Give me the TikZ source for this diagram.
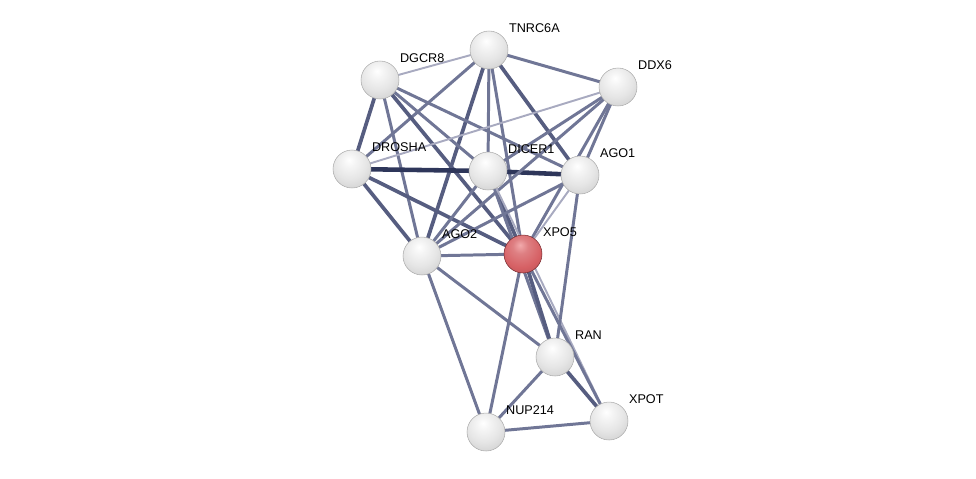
\documentclass[tikz,border=0pt]{standalone}
\usepackage{fontspec}
\setmainfont{Liberation Sans}
\usetikzlibrary{backgrounds}

\definecolor{edgelite}{RGB}{168,170,192}
\definecolor{edgemid}{RGB}{112,118,150}
\definecolor{edgestrong}{RGB}{86,93,128}
\definecolor{edgedark}{RGB}{46,54,90}
\definecolor{redmid}{RGB}{214,96,100}
\definecolor{redhi}{RGB}{242,170,172}
\definecolor{redlo}{RGB}{170,62,68}

\pgfdeclareradialshading{greyball}{\pgfpoint{-4bp}{12bp}}{color(0bp)=(white); color(8bp)=(gray!8); color(22bp)=(gray!20); color(34bp)=(gray!34); color(44bp)=(gray!52); color(50bp)=(gray!70); color(80bp)=(gray!70)}
\pgfdeclareradialshading{redball}{\pgfpoint{-4bp}{12bp}}{color(0bp)=(redhi); color(10bp)=(redmid!80!white); color(26bp)=(redmid); color(40bp)=(redmid!85!black); color(48bp)=(redlo); color(52bp)=(redlo!75!black); color(80bp)=(redlo!75!black)}

\begin{document}
\begin{tikzpicture}[x=0.02cm,y=-0.02cm,
  prot/.style={circle,inner sep=0pt,minimum size=0.76cm,shading=greyball,draw=gray!65,line width=0.3pt},
  query/.style={prot,shading=redball,draw=redlo!70!black},
  lab/.style={anchor=west,inner sep=1pt,font=\fontsize{7.2}{8}\selectfont},
  lite/.style={draw=edgelite,line width=1.1pt},
  mid/.style={draw=edgemid,line width=1.7pt},
  strong/.style={draw=edgestrong,line width=2.1pt},
  dark/.style={draw=edgedark,line width=2.6pt}]

\useasboundingbox (0,0) rectangle (976,478);

\node[prot] (TNRC6A) at (489,50) {};
\node[prot] (DGCR8) at (380,80) {};
\node[prot] (DDX6) at (618,87) {};
\node[prot] (DROSHA) at (352,169) {};
\node[prot] (DICER1) at (488,171) {};
\node[prot] (AGO1) at (580,175) {};
\node[prot] (AGO2) at (422,256) {};
\node[query] (XPO5) at (523,254) {};
\node[prot] (RAN) at (555,357) {};
\node[prot] (NUP214) at (486,432) {};
\node[prot] (XPOT) at (609,421) {};

\foreach \p in {TNRC6A,DGCR8,DDX6,DROSHA,DICER1,AGO1,AGO2,XPO5,RAN,NUP214,XPOT}
  \node[lab] (l\p) at ([shift={(18,-22)}]\p) {\p};

\begin{scope}[on background layer]
\draw[lite] (TNRC6A.center) to (DGCR8.center);
\draw[mid] (TNRC6A.center) to (DDX6.center);
\draw[mid] (TNRC6A.center) to (DROSHA.center);
\draw[mid] (TNRC6A.center) to (DICER1.center);
\draw[strong] (TNRC6A.center) to (AGO1.center);
\draw[strong] (TNRC6A.center) to (AGO2.center);
\draw[mid] (TNRC6A.center) to (XPO5.center);
\draw[strong] (DGCR8.center) to (DROSHA.center);
\draw[mid] (DGCR8.center) to (DICER1.center);
\draw[mid] (DGCR8.center) to (AGO1.center);
\draw[mid] (DGCR8.center) to (AGO2.center);
\draw[strong] (DGCR8.center) to (XPO5.center);
\draw[dark] (DROSHA.center) to (DICER1.center) to (AGO1.center);
\draw[lite] (DROSHA.center) to (DDX6.center);
\draw[strong] (DROSHA.center) to (AGO2.center);
\draw[strong] (DROSHA.center) to (XPO5.center);
\draw[mid] (DDX6.center) to (DICER1.center);
\draw[mid] (DDX6.center) to (AGO1.center);
\draw[mid] (DDX6.center) to (XPO5.center);
\draw[mid] (DDX6.center) to (AGO2.center);
\draw[mid] (DICER1.center) to (AGO2.center);
\draw[strong] (DICER1.center) to (XPO5.center);
\draw[mid] (DICER1.center) to (RAN.center);
\draw[lite] (DICER1.center) to (XPOT.center);
\draw[mid] (AGO1.center) to (AGO2.center);
\draw[lite] (AGO1.center) to (XPO5.center);
\draw[mid] (AGO1.center) to (RAN.center);
\draw[mid] (AGO2.center) to (XPO5.center);
\draw[mid] (AGO2.center) to (RAN.center);
\draw[mid] (AGO2.center) to (NUP214.center);
\draw[strong] (XPO5.center) to (RAN.center);
\draw[mid] (XPO5.center) to (NUP214.center);
\draw[mid] (XPO5.center) to (XPOT.center);
\draw[mid] (RAN.center) to (NUP214.center);
\draw[strong] (RAN.center) to (XPOT.center);
\draw[mid] (NUP214.center) to (XPOT.center);
\end{scope}

\end{tikzpicture}
\end{document}
